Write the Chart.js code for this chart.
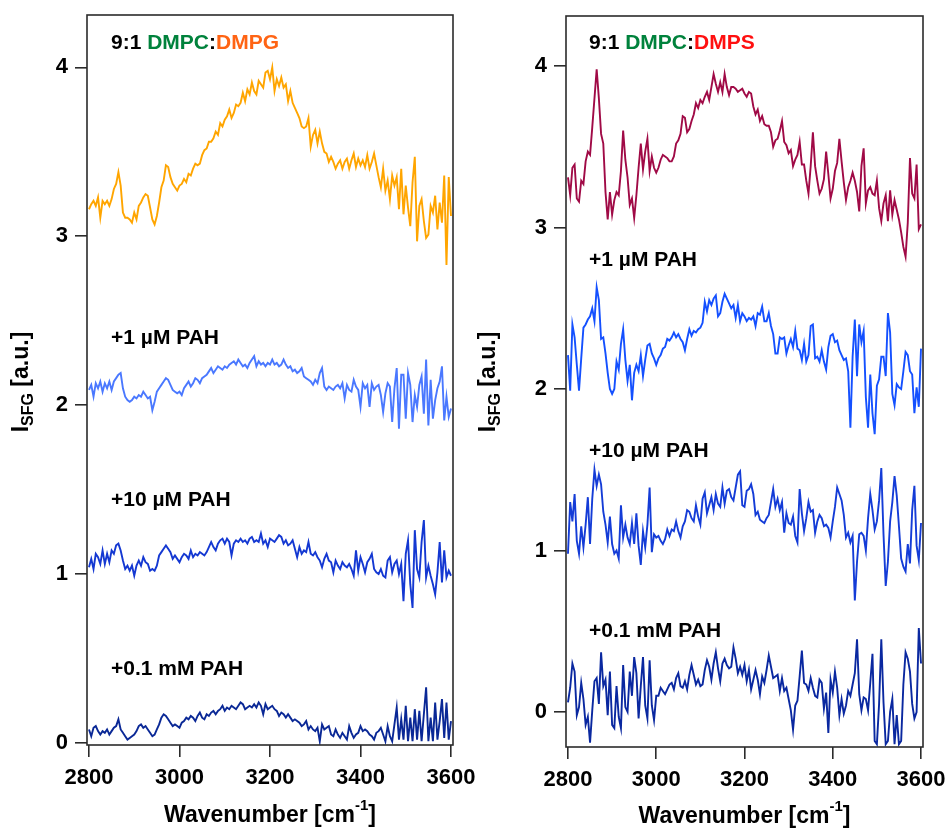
<!DOCTYPE html>
<html lang="en">
<head>
    <meta charset="UTF-8">
    <title>SFG spectra - DMPC:DMPG / DMPC:DMPS with PAH</title>
    <script src="https://cdn.jsdelivr.net/npm/chart.js@4"></script>
    <style>
        body { margin: 0; padding: 0; background: #fff; width: 948px; height: 829px; position: relative; overflow: hidden; }
        canvas { position: absolute; top: 0; }
        #left { left: 0; }
        #right { left: 470px; }
    </style>
</head>
<body>

<canvas id="left" width="490" height="829"></canvas>
<canvas id="right" width="478" height="829"></canvas>

<script>
    const FONT = '"Liberation Sans", Arial, Helvetica, sans-serif';

    // wavenumber grid (cm-1), 5 cm-1 steps
    const wavenumbers = Array.from({ length: 161 }, (_, i) => 2800 + 5 * i);
    const xTicks = [2800, 3000, 3200, 3400, 3600];
    const yTicks = [0, 1, 2, 3, 4];

    // left panel: 9:1 DMPC:DMPG (offset traces)
    const dmpgLipid = [3.16,3.19,3.21,3.18,3.23,3.11,3.21,3.19,3.21,3.18,
        3.22,3.28,3.31,3.38,3.30,3.14,3.11,3.11,3.10,3.08,
        3.14,3.10,3.18,3.20,3.23,3.25,3.24,3.17,3.10,3.07,
        3.12,3.20,3.29,3.33,3.42,3.41,3.35,3.31,3.29,3.27,
        3.30,3.31,3.34,3.32,3.37,3.36,3.40,3.43,3.42,3.43,
        3.48,3.51,3.52,3.56,3.56,3.58,3.62,3.60,3.67,3.65,
        3.69,3.71,3.75,3.70,3.73,3.78,3.77,3.79,3.85,3.80,
        3.87,3.84,3.91,3.86,3.84,3.92,3.90,3.88,3.97,3.98,
        3.93,4.00,3.86,3.93,3.89,3.94,3.88,3.90,3.80,3.86,
        3.79,3.76,3.73,3.70,3.65,3.64,3.65,3.70,3.53,3.60,
        3.63,3.55,3.62,3.55,3.50,3.49,3.44,3.47,3.44,3.40,
        3.43,3.45,3.40,3.44,3.46,3.40,3.45,3.49,3.41,3.46,
        3.42,3.45,3.41,3.48,3.40,3.44,3.49,3.42,3.35,3.29,
        3.40,3.27,3.33,3.22,3.36,3.30,3.35,3.16,3.40,3.13,
        3.30,3.17,3.06,3.32,3.47,2.97,3.18,3.22,3.09,2.99,
        3.01,3.18,3.14,3.24,3.04,3.20,3.08,3.36,2.83,3.35,
        3.12];
    const dmpg1uM = [2.09,2.12,2.05,2.13,2.10,2.14,2.08,2.13,2.10,2.14,
        2.09,2.14,2.16,2.18,2.19,2.10,2.05,2.03,2.02,2.03,
        2.05,2.04,2.06,2.05,2.08,2.06,2.04,2.05,1.97,2.02,
        2.08,2.10,2.12,2.14,2.16,2.15,2.12,2.09,2.08,2.07,
        2.08,2.06,2.10,2.12,2.14,2.11,2.13,2.16,2.15,2.13,
        2.16,2.17,2.18,2.20,2.22,2.19,2.21,2.23,2.22,2.21,
        2.23,2.22,2.24,2.25,2.26,2.24,2.27,2.25,2.23,2.24,
        2.22,2.25,2.27,2.29,2.23,2.26,2.24,2.25,2.23,2.25,
        2.24,2.27,2.24,2.25,2.23,2.24,2.27,2.24,2.22,2.23,
        2.20,2.21,2.19,2.20,2.22,2.17,2.16,2.15,2.14,2.12,
        2.15,2.13,2.19,2.22,2.11,2.09,2.11,2.10,2.09,2.11,
        2.12,2.10,2.13,2.04,2.12,2.09,2.08,2.15,2.11,2.09,
        1.99,2.13,2.10,2.12,1.99,2.13,2.09,2.11,2.12,2.06,
        1.96,2.07,2.13,2.11,1.90,2.10,2.22,1.86,2.18,2.18,
        1.92,2.19,2.12,1.90,2.06,1.99,2.12,2.17,1.95,2.27,
        1.88,2.15,1.92,2.03,2.10,2.14,2.23,1.91,2.05,1.93,
        1.98];
    const dmpg10uM = [1.04,1.09,1.03,1.12,1.10,1.06,1.14,1.06,1.12,1.07,
        1.14,1.12,1.17,1.18,1.14,1.08,1.03,1.05,1.02,1.05,
        0.99,1.05,1.08,1.05,1.10,1.07,1.06,1.02,1.03,1.02,
        1.05,1.11,1.13,1.15,1.17,1.15,1.13,1.09,1.11,1.09,
        1.07,1.10,1.12,1.11,1.09,1.14,1.10,1.12,1.11,1.13,
        1.12,1.11,1.13,1.16,1.19,1.16,1.14,1.18,1.20,1.21,
        1.18,1.21,1.19,1.11,1.18,1.20,1.19,1.21,1.19,1.20,
        1.18,1.21,1.22,1.19,1.20,1.19,1.24,1.18,1.20,1.16,
        1.21,1.20,1.19,1.21,1.23,1.22,1.18,1.20,1.17,1.18,
        1.20,1.15,1.10,1.16,1.12,1.14,1.13,1.19,1.12,1.11,
        1.13,1.10,1.08,1.04,1.09,1.12,1.08,1.07,1.01,1.08,
        1.05,1.03,1.07,1.05,1.04,1.06,1.03,0.99,1.14,1.02,
        1.10,1.06,1.01,1.07,1.09,1.12,1.03,1.01,1.00,1.03,
        0.99,0.98,1.08,1.10,1.01,1.06,1.08,1.00,1.06,0.84,
        1.12,1.20,0.94,0.80,1.26,1.03,0.98,1.19,1.32,0.98,
        1.05,0.99,0.94,0.88,1.01,1.19,0.95,1.14,0.98,1.02,
        0.99];
    const dmpg01mM = [0.08,0.04,0.09,0.10,0.07,0.05,0.07,0.06,0.08,0.05,
        0.07,0.09,0.10,0.14,0.08,0.06,0.04,0.02,0.03,0.04,
        0.05,0.07,0.10,0.11,0.09,0.10,0.08,0.06,0.04,0.05,
        0.08,0.11,0.15,0.17,0.16,0.14,0.12,0.10,0.11,0.10,
        0.09,0.12,0.13,0.15,0.14,0.16,0.15,0.13,0.16,0.18,
        0.15,0.14,0.17,0.16,0.18,0.19,0.17,0.19,0.20,0.22,
        0.19,0.21,0.20,0.22,0.21,0.20,0.22,0.24,0.23,0.20,
        0.21,0.22,0.21,0.23,0.21,0.24,0.22,0.17,0.23,0.20,
        0.21,0.22,0.20,0.19,0.16,0.18,0.17,0.15,0.17,0.15,
        0.13,0.14,0.13,0.12,0.10,0.11,0.13,0.08,0.10,0.08,
        0.07,0.09,0.01,0.11,0.08,0.09,0.10,0.05,0.04,0.08,
        0.05,0.03,0.06,0.04,0.02,0.10,0.06,0.03,0.05,0.06,
        0.10,0.07,0.08,0.07,0.05,0.04,0.02,0.06,0.07,0.09,
        0.05,0.01,0.10,0.04,0.01,0.11,0.21,0.02,0.14,0.02,
        0.22,0.01,0.15,0.01,0.20,0.02,0.19,0.01,0.17,0.33,
        0.01,0.15,0.01,0.24,0.02,0.13,0.26,0.03,0.24,0.02,
        0.13];

    // right panel: 9:1 DMPC:DMPS (offset traces)
    const dmpsLipid = [3.31,3.20,3.37,3.39,3.18,3.16,3.29,3.27,3.41,3.47,
        3.45,3.62,3.80,3.98,3.80,3.58,3.52,3.22,3.05,3.22,
        3.08,3.17,3.22,3.20,3.35,3.60,3.42,3.31,3.14,3.18,
        3.06,3.20,3.37,3.52,3.36,3.47,3.55,3.35,3.44,3.37,
        3.34,3.37,3.42,3.45,3.44,3.43,3.41,3.41,3.44,3.52,
        3.54,3.58,3.69,3.68,3.59,3.61,3.66,3.70,3.77,3.74,
        3.79,3.77,3.81,3.84,3.79,3.87,3.95,3.89,3.84,3.90,
        3.84,3.95,3.87,3.82,3.87,3.87,3.86,3.84,3.85,3.86,
        3.83,3.81,3.84,3.83,3.75,3.70,3.73,3.66,3.69,3.64,
        3.63,3.63,3.59,3.50,3.54,3.55,3.60,3.66,3.53,3.51,
        3.46,3.48,3.38,3.42,3.45,3.53,3.39,3.39,3.29,3.21,
        3.38,3.59,3.38,3.29,3.21,3.24,3.30,3.47,3.33,3.18,
        3.24,3.35,3.40,3.55,3.41,3.28,3.17,3.25,3.29,3.34,
        3.29,3.22,3.10,3.38,3.49,3.15,3.23,3.25,3.21,3.20,
        3.29,3.12,3.04,3.15,3.20,3.04,3.23,3.08,3.17,3.11,
        3.05,2.97,2.88,2.82,3.03,3.43,3.21,3.18,3.39,2.99,
        3.02];
    const dmps1uM = [2.21,1.99,2.40,2.32,2.15,1.99,2.19,2.38,2.40,2.43,
        2.45,2.50,2.42,2.63,2.55,2.31,2.32,2.22,2.10,2.00,
        1.97,2.00,2.17,2.12,2.28,2.37,2.18,2.05,2.15,1.93,
        2.10,2.15,2.11,2.21,2.08,2.18,2.27,2.28,2.22,2.19,
        2.15,2.19,2.21,2.25,2.26,2.31,2.30,2.32,2.35,2.32,
        2.34,2.31,2.29,2.24,2.31,2.37,2.33,2.36,2.35,2.37,
        2.38,2.41,2.54,2.48,2.55,2.52,2.56,2.58,2.45,2.47,
        2.54,2.59,2.56,2.53,2.50,2.52,2.44,2.52,2.42,2.47,
        2.45,2.42,2.44,2.43,2.45,2.39,2.47,2.46,2.51,2.42,
        2.42,2.47,2.39,2.34,2.22,2.22,2.32,2.31,2.32,2.22,
        2.27,2.31,2.26,2.36,2.25,2.24,2.18,2.28,2.17,2.21,
        2.39,2.40,2.19,2.20,2.17,2.24,2.17,2.12,2.26,2.33,
        2.34,2.29,2.30,2.24,2.21,2.18,2.19,2.11,1.76,2.20,
        2.43,2.08,2.40,2.29,2.36,1.95,1.76,2.09,1.85,1.72,
        2.02,2.06,2.20,2.20,2.08,2.47,2.35,1.97,1.90,2.03,
        2.01,2.00,2.11,2.23,2.21,2.11,2.09,1.85,2.01,1.89,
        2.25];
    const dmps10uM = [0.98,1.30,1.18,1.35,1.06,0.98,1.15,1.02,1.16,1.33,
        1.04,1.32,1.50,1.40,1.47,1.41,1.24,1.16,1.05,1.21,
        1.04,0.98,1.00,0.95,1.28,1.08,1.16,1.08,1.04,1.17,
        1.04,1.23,1.03,0.91,1.12,1.02,1.16,1.39,0.99,1.10,
        1.08,1.09,1.06,1.04,1.07,1.13,1.09,1.13,1.12,1.18,
        1.12,1.08,1.15,1.18,1.25,1.24,1.20,1.18,1.28,1.21,
        1.16,1.32,1.36,1.23,1.28,1.33,1.25,1.35,1.29,1.27,
        1.39,1.29,1.37,1.38,1.33,1.31,1.39,1.47,1.49,1.28,
        1.27,1.37,1.38,1.41,1.35,1.22,1.24,1.19,1.18,1.17,
        1.20,1.22,1.30,1.38,1.27,1.32,1.25,1.30,1.11,1.23,
        1.17,1.16,1.21,1.09,1.05,1.38,1.23,1.12,1.20,1.30,
        1.24,1.25,1.11,1.18,1.22,1.20,1.15,1.16,1.14,1.08,
        1.18,1.27,1.39,1.35,1.31,1.22,1.08,1.11,1.05,1.09,
        0.69,0.93,1.10,1.11,1.09,1.00,1.20,1.35,1.25,1.13,
        1.18,1.31,1.51,1.10,0.78,0.93,1.18,1.30,1.46,1.34,
        1.15,0.95,0.90,0.87,1.04,0.92,1.25,1.40,1.03,0.94,
        1.17];
    const dmps01mM = [0.06,0.15,0.30,0.25,-0.02,0.03,0.18,0.08,-0.08,-0.03,
        -0.19,0.01,0.19,0.21,0.05,0.37,0.16,0.20,-0.02,0.25,
        -0.08,-0.10,0.16,-0.03,-0.10,0.29,0.03,0.00,0.25,0.10,
        0.34,0.24,-0.04,0.16,0.34,0.04,-0.04,0.32,0.04,-0.05,
        0.10,0.10,0.15,0.13,0.11,0.14,0.17,0.18,0.14,0.21,
        0.24,0.16,0.15,0.19,0.14,0.23,0.29,0.23,0.17,0.20,
        0.16,0.17,0.26,0.32,0.28,0.20,0.30,0.37,0.27,0.19,
        0.30,0.33,0.29,0.27,0.28,0.40,0.33,0.24,0.28,0.23,
        0.29,0.19,0.26,0.14,0.20,0.26,0.20,0.11,0.22,0.18,
        0.26,0.35,0.28,0.21,0.22,0.23,0.13,0.21,0.13,0.15,
        0.08,0.01,-0.11,0.04,0.07,0.22,0.38,0.18,0.17,0.13,
        0.21,0.15,0.10,0.09,0.20,0.18,0.02,0.12,-0.13,0.20,
        0.12,0.25,0.15,-0.02,0.08,-0.01,0.04,0.13,0.10,0.17,
        0.24,0.45,0.11,0.01,0.09,0.08,0.01,0.18,0.36,-0.18,
        -0.20,0.05,0.45,0.06,-0.20,-0.18,0.00,0.08,-0.20,-0.02,
        -0.20,-0.18,0.17,0.37,0.33,0.25,0.05,-0.04,0.00,0.52,
        0.30];

    const GREEN = '#00823c';

    function pts(vals) {
        return vals.map((v, i) => ({ x: wavenumbers[i], y: v }));
    }

    // box around the plot area
    const framePlugin = {
        id: 'frame',
        afterDatasetsDraw(chart) {
            const { ctx, chartArea: a } = chart;
            ctx.save();
            ctx.strokeStyle = '#2b2b2b';
            ctx.lineWidth = 1.6;
            ctx.strokeRect(a.left, a.top, a.right - a.left, a.bottom - a.top);
            ctx.restore();
        }
    };

    // text pieces {text, color, size, dy}
    function runsWidth(ctx, runs) {
        let w = 0;
        runs.forEach(r => {
            ctx.font = 'bold ' + (r.size || 21) + 'px ' + FONT;
            w += ctx.measureText(r.text).width;
        });
        return w;
    }
    function drawRuns(ctx, runs, x, y) {
        runs.forEach(r => {
            ctx.font = 'bold ' + (r.size || 21) + 'px ' + FONT;
            ctx.fillStyle = r.color || '#000';
            ctx.fillText(r.text, x, y + (r.dy || 0));
            x += ctx.measureText(r.text).width;
        });
    }

    // annotations + axis titles (sub/superscripts)
    const notesPlugin = {
        id: 'notes',
        afterDraw(chart, args, opts) {
            const { ctx, chartArea: a } = chart;
            ctx.save();
            ctx.textBaseline = 'alphabetic';
            ctx.textAlign = 'left';
            opts.labels.forEach(l => drawRuns(ctx, l.runs, l.x, l.y));

            // x title: Wavenumber [cm^-1]
            const xt = [
                { text: 'Wavenumber [cm', size: 23 },
                { text: '-1', size: 15, dy: -12 },
                { text: ']', size: 23 }
            ];
            const xw = runsWidth(ctx, xt);
            drawRuns(ctx, xt, (a.left + a.right) / 2 - xw / 2, opts.xTitleY);

            // y title: I_SFG [a.u.]
            const yt = [
                { text: 'I', size: 23 },
                { text: 'SFG', size: 16, dy: 5 },
                { text: ' [a.u.]', size: 23 }
            ];
            const yw = runsWidth(ctx, yt);
            ctx.translate(opts.yTitleX, opts.yTitleCenter);
            ctx.rotate(-Math.PI / 2);
            drawRuns(ctx, yt, -yw / 2, 0);
            ctx.restore();
        }
    };

    function makeChart(id, series, colors, o) {
        const tickFont = { family: FONT, size: 22, weight: 'bold' };
        const gridOpts = { display: true, drawOnChartArea: false, drawTicks: true, tickLength: 12, color: '#2b2b2b', lineWidth: 1.6 };
        return new Chart(document.getElementById(id), {
            type: 'line',
            data: {
                datasets: series.map((s, k) => ({
                    data: pts(s),
                    borderColor: colors[k],
                    borderWidth: 1.9,
                    pointRadius: 0,
                    tension: 0,
                    fill: false
                }))
            },
            options: {
                responsive: false,
                animation: false,
                events: [],
                layout: { padding: { left: 0, right: o.padRight, top: o.padTop, bottom: 0 } },
                plugins: {
                    legend: { display: false },
                    tooltip: { enabled: false },
                    notes: { labels: o.labels, xTitleY: o.xTitleY, yTitleX: o.yTitleX, yTitleCenter: 382 }
                },
                scales: {
                    x: {
                        type: 'linear',
                        min: o.xmin,
                        max: o.xmax,
                        afterBuildTicks: s => { s.ticks = xTicks.map(v => ({ value: v })); },
                        afterFit: s => { s.height = o.xAxisHeight; s.paddingLeft = 0; s.paddingRight = 0; },
                        grid: gridOpts,
                        border: { display: false },
                        ticks: { font: tickFont, color: '#000', padding: 8, maxRotation: 0, autoSkip: false, callback: v => String(v) }
                    },
                    y: {
                        type: 'linear',
                        min: o.ymin,
                        max: o.ymax,
                        afterBuildTicks: s => { s.ticks = yTicks.map(v => ({ value: v })); },
                        afterFit: s => { s.width = o.yAxisWidth; s.paddingTop = 0; s.paddingBottom = 0; },
                        grid: gridOpts,
                        border: { display: false },
                        ticks: { font: tickFont, color: '#000', padding: 7, autoSkip: false, callback: v => String(v) }
                    }
                }
            },
            plugins: [framePlugin, notesPlugin]
        });
    }

    makeChart('left',
        [dmpgLipid, dmpg1uM, dmpg10uM, dmpg01mM],
        ['#ffa500', '#4a78ff', '#1438d2', '#0a2896'],
        {
            padRight: 37, padTop: 15, xAxisHeight: 84, yAxisWidth: 87,
            xmin: 2795.6, xmax: 3604.4, ymin: -0.012, ymax: 4.31,
            xTitleY: 822, yTitleX: 28,
            labels: [
                { x: 111, y: 49, runs: [{ text: '9:1 ' }, { text: 'DMPC', color: GREEN }, { text: ':' }, { text: 'DMPG', color: '#ff6414' }] },
                { x: 111, y: 344, runs: [{ text: '+1 µM PAH' }] },
                { x: 111, y: 506, runs: [{ text: '+10 µM PAH' }] },
                { x: 111, y: 675, runs: [{ text: '+0.1 mM PAH' }] }
            ]
        });

    makeChart('right',
        [dmpsLipid, dmps1uM, dmps10uM, dmps01mM],
        ['#a00a46', '#1450ff', '#143cd7', '#0a28a0'],
        {
            padRight: 25, padTop: 16, xAxisHeight: 82, yAxisWidth: 96,
            xmin: 2795.5, xmax: 3604.5, ymin: -0.217, ymax: 4.31,
            xTitleY: 823, yTitleX: 25,
            labels: [
                { x: 119, y: 49, runs: [{ text: '9:1 ' }, { text: 'DMPC', color: GREEN }, { text: ':' }, { text: 'DMPS', color: '#ff1010' }] },
                { x: 119, y: 266, runs: [{ text: '+1 µM PAH' }] },
                { x: 119, y: 457, runs: [{ text: '+10 µM PAH' }] },
                { x: 119, y: 637, runs: [{ text: '+0.1 mM PAH' }] }
            ]
        });
</script>

</body>
</html>
